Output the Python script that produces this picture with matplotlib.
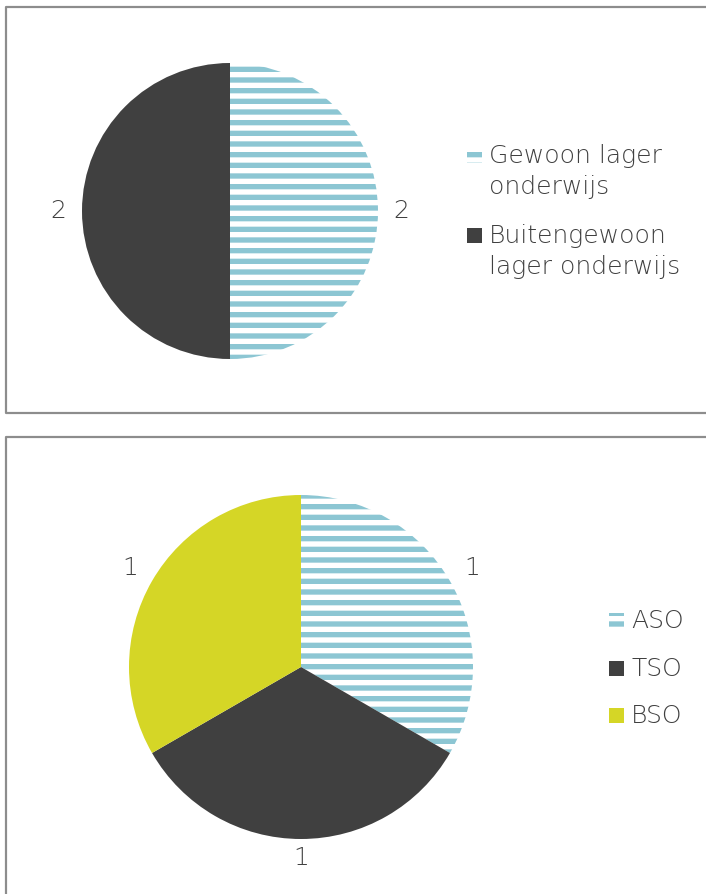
import matplotlib
matplotlib.use("Agg")
import matplotlib.pyplot as plt
from matplotlib.lines import Line2D
from matplotlib.patches import Rectangle
import numpy as np

top_labels = ["Gewoon lager\nonderwijs", "Buitengewoon\nlager onderwijs"]
top_values = [2, 2]
bottom_labels = ["ASO", "TSO", "BSO"]
bottom_values = [1, 1, 1]

BLUE = "#8cc6d3"
DARK = "#404040"
YELLOW = "#d5d626"
TEXT = "#404040"
BORDER = "#8d8d8d"

W, H, DPI = 706, 894, 64
plt.rcParams["font.family"] = ["DejaVu Sans"]
plt.rcParams["hatch.linewidth"] = 6.0
FONT_PX = 25


def pt(px):
    return px * 72 / DPI


def fx(x):
    return x / W


def fy(y):
    return 1 - y / H


fig = plt.figure(figsize=(W / DPI, H / DPI), dpi=DPI)


def frame_line(xs, ys):
    fig.add_artist(Line2D([fx(x) for x in xs], [fy(y) for y in ys],
                          transform=fig.transFigure, color=BORDER, lw=pt(2.2)))


# panel borders (right side open, cut by the image edge)
frame_line([706, 6, 6, 706], [7, 7, 413, 413])
frame_line([706, 6, 6], [437, 437, 894])


def style_wedges(wedges, styles):
    for w, (kind, col) in zip(wedges, styles):
        if kind == "hatch":
            w.set_facecolor("white")
            w.set_hatch("-")
            w.set_edgecolor(col)
        else:
            w.set_facecolor(col)
            w.set_edgecolor(col)
        w.set_linewidth(0)


def draw_pie(cx, cy, r, values, styles, label_dist):
    ax = fig.add_axes([fx(cx - r), fy(cy + r), 2 * r / W, 2 * r / H])
    wedges, _ = ax.pie(values, startangle=90, counterclock=False, radius=1)
    ax.set_xlim(-1, 1)
    ax.set_ylim(-1, 1)
    ax.axis("off")
    style_wedges(wedges, styles)
    for w, v, d in zip(wedges, values, label_dist):
        ang = np.deg2rad((w.theta1 + w.theta2) / 2)
        ax.text(d * np.cos(ang), d * np.sin(ang), str(v), ha="center", va="center",
                fontsize=pt(FONT_PX), color=TEXT, fontweight="light")
    return wedges


def draw_legend(labels, styles, x, baselines, step=31):
    for lab, (kind, col), yb in zip(labels, styles, baselines):
        sq = Rectangle((fx(x), fy(yb)), 15 / W, 15 / H, transform=fig.transFigure,
                       facecolor="white" if kind == "hatch" else col,
                       edgecolor=col, lw=0, hatch="-" if kind == "hatch" else None)
        fig.add_artist(sq)
        for i, line in enumerate(lab.split("\n")):
            fig.text(fx(x + 22), fy(yb + i * step), line, ha="left", va="baseline",
                     fontsize=pt(FONT_PX), color=TEXT, fontweight="light")


top_styles = [("hatch", BLUE), ("solid", DARK)]
bottom_styles = [("hatch", BLUE), ("solid", DARK), ("solid", YELLOW)]

draw_pie(230, 211, 148, top_values, top_styles, [1.16, 1.16])
draw_legend(top_labels, top_styles, 467, [163, 243])

draw_pie(301, 667, 172, bottom_values, bottom_styles, [1.15, 1.11, 1.15])
draw_legend(bottom_labels, bottom_styles, 609, [628, 676, 723])

fig.savefig("out.png", dpi=DPI, facecolor="white")
